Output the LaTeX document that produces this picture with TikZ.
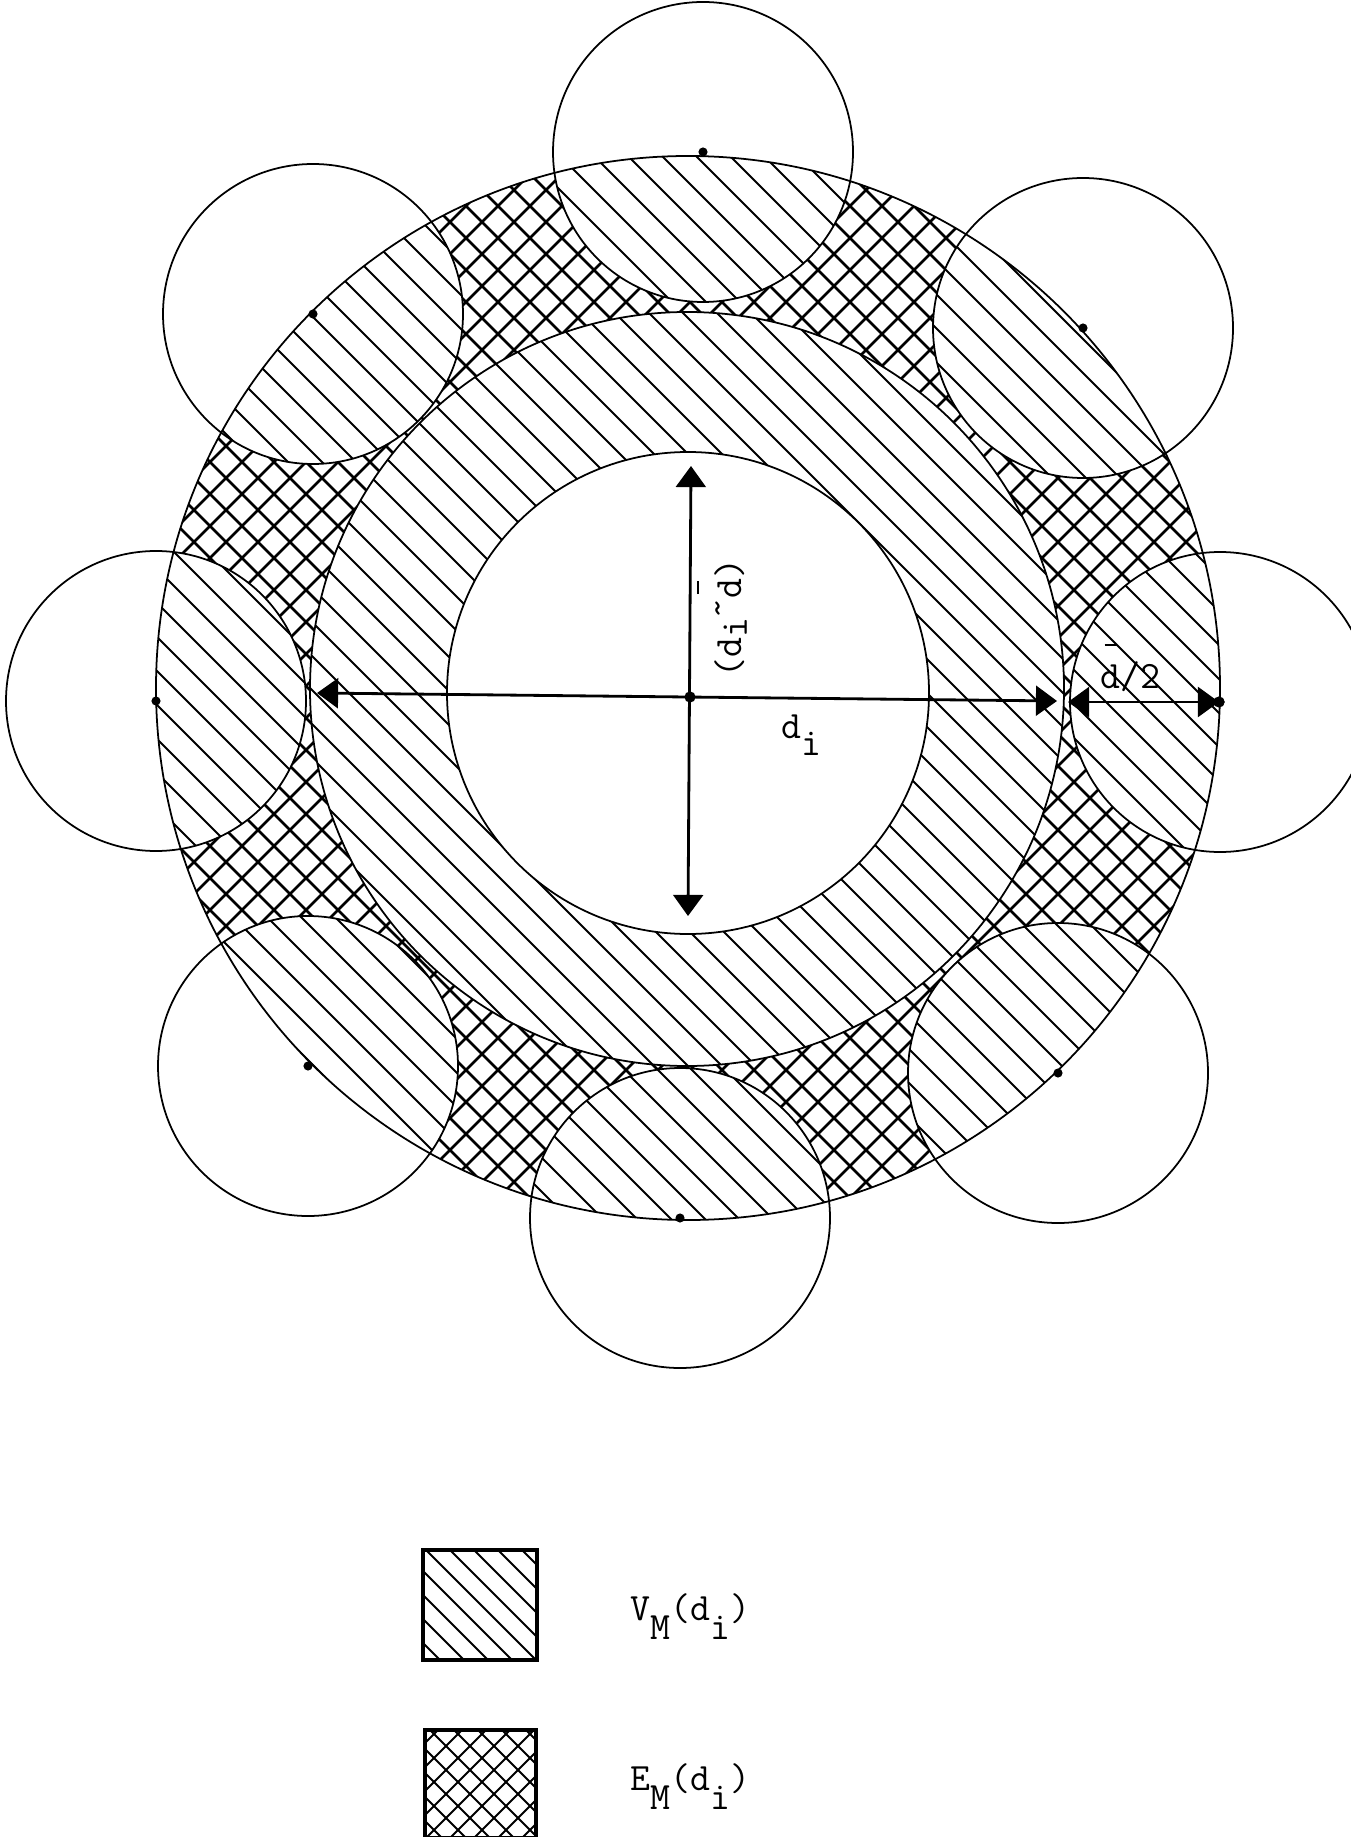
\documentclass[tikz,border=0pt]{standalone}
\usetikzlibrary{arrows.meta}
\newcommand\mydbar{\makebox[0pt][l]{\hspace{0.1em}\rule[1.08em]{0.33em}{0.07em}}d}
\newcommand\smallcircs{(s1) circle[radius=150] (s2) circle[radius=150] (s3) circle[radius=150] (s4) circle[radius=150] (s5) circle[radius=150] (s6) circle[radius=150] (s7) circle[radius=150] (s8) circle[radius=150]}
\begin{document}
\begin{tikzpicture}[x=0.01cm,y=-0.01cm,
  outl/.style={line width=0.5pt},
  hatchln/.style={line width=0.55pt},
  crossln/.style={line width=0.75pt},
  dimarrow/.style={line width=0.8pt,{Triangle[length=6pt,width=8.5pt]}-{Triangle[length=6pt,width=8.5pt]}},
  dotc/.style={circle,fill,inner sep=0pt,minimum size=2.6pt},
  lbl/.style={font=\ttfamily\fontsize{11pt}{13pt}\selectfont,inner sep=0pt}
]
\useasboundingbox (0,0) rectangle (1350,1837);
% centres
\coordinate (Oc) at (688,688);
\coordinate (Mc) at (687,689);
\coordinate (Wc) at (688,693);
\coordinate (Cd) at (690,697);
\coordinate (s1) at (703,152);
\coordinate (s2) at (1083,328);
\coordinate (s3) at (1220,702);
\coordinate (s4) at (1058,1073);
\coordinate (s5) at (680,1218);
\coordinate (s6) at (308,1066);
\coordinate (s7) at (156,701);
\coordinate (s8) at (313,314);

% single hatch region
\begin{scope}[even odd rule]
  \clip (Oc) circle[radius=532];
  \clip (-20,-20) rectangle (1370,1860) (Wc) circle[radius=241];
  \clip (Mc) circle[radius=377] \smallcircs;
  \foreach \c in {-1500,-1466,...,1400} \draw[hatchln] (\c,0) -- ++(1500,1500);
\end{scope}

% cross hatch region
\begin{scope}[even odd rule]
  \clip (Oc) circle[radius=532];
  \clip (-20,-20) rectangle (1370,1860) (Mc) circle[radius=377] \smallcircs;
  \foreach \c in {-1500,-1468,...,1400} \draw[crossln] (\c,0) -- ++(1500,1500);
  \foreach \c in {0,32,...,2900} \draw[crossln] (\c,0) -- ++(-1500,1500);
\end{scope}

% outlines
\draw[outl] (Wc) circle[radius=241];
\draw[outl] (Mc) circle[radius=377];
\draw[outl] (Oc) circle[radius=532];
\foreach \s in {s1,s2,s3,s4,s5,s6,s7,s8} {
  \draw[outl] (\s) circle[radius=150];
  \node[dotc] at (\s) {};
}

% dimension arrows
\coordinate (dL) at (317,693);
\coordinate (dR) at (1057,701);
\coordinate (vT) at (691,466);
\coordinate (vB) at (688,916);
\coordinate (hL) at (1068,702);
\coordinate (hR) at (1219,702);
\draw[dimarrow] (dL) -- (dR);
\draw[dimarrow] (vT) -- (vB);
\draw[dimarrow] (hL) -- (hR);
\node[dotc,minimum size=3.2pt] (cdot) at (Cd) {};
\node[dotc,minimum size=3.2pt] (rdot) at (hR) {};

% labels
\node[lbl,anchor=base west] (labdi) at (781,738) {d\raisebox{-0.45em}{i}};
\node[lbl,rotate=90,anchor=base] (labdd) at (741,618) {(d\raisebox{-0.15em}{i}\raisebox{0.3em}{\textasciitilde}\mydbar)};
\node[lbl,anchor=base west] (labh) at (1100,688) {\mydbar/2};

% legend
\begin{scope}
  \clip (423,1550) rectangle (537,1660);
  \foreach \c in {-200,-176,...,600} \draw[hatchln] (\c,1500) -- ++(200,200);
\end{scope}
\draw[line width=0.9pt] (423,1550) rectangle (537,1660);
\begin{scope}
  \clip (425,1730) rectangle (536,1838);
  \foreach \c in {-200,-176,...,600} \draw[hatchln] (\c,1700) -- ++(200,200);
  \foreach \c in {300,324,...,1000} \draw[hatchln] (\c,1700) -- ++(-200,200);
\end{scope}
\draw[line width=0.9pt] (425,1730) rectangle (536,1838);
\node[lbl,anchor=base west] (lv) at (630,1620) {V\raisebox{-0.5em}{M}(d\raisebox{-0.5em}{i})};
\node[lbl,anchor=base west] (le) at (630,1790) {E\raisebox{-0.5em}{M}(d\raisebox{-0.5em}{i})};
\end{tikzpicture}
\end{document}
